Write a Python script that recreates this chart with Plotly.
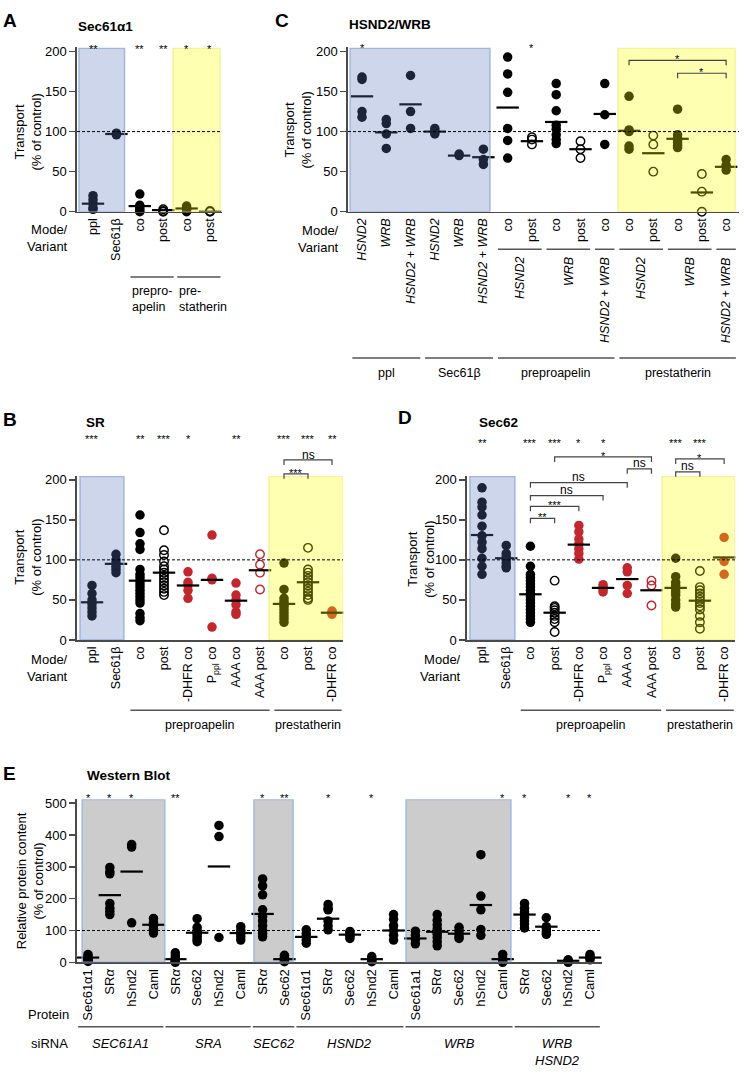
import plotly.graph_objects as go

W, H = 744, 1092
FONT = "Liberation Sans, Arial, Helvetica, sans-serif"
BLACK = "#000000"
RED = "#c1272d"
AXIS = "#4a4a4a"

# ======================= DATA =======================
# Panel A - Sec61alpha1
A_cats = ["ppl", "Sec61β", "co", "post", "co", "post"]
A_vals = [[20, 15, 10, 5, 3], [98, 97, 96], [22, 8, 5, 2, 0], [3, 1, 0], [7, 5, 3, 0], [1, 0]]
A_means = [10, 97, 7, 2, 4, 0]
A_stars = ["**", "", "**", "**", "*", "*"]
A_open = [3, 5]
A_red = []
A_groups = [("prepro-<br>apelin", 2, 3), ("pre-<br>statherin", 4, 5)]

# Panel C - HSND2/WRB
C_cats = ["HSND2", "WRB", "HSND2 + WRB", "HSND2", "WRB", "HSND2 + WRB",
          "co", "post", "co", "post", "co", "co", "post", "co", "post", "co"]
C_vals = [[168, 165, 125, 118], [115, 110, 97, 79], [170, 125, 104], [104, 101, 99, 97],
          [72, 70], [78, 65, 59], [193, 172, 149, 104, 89, 67], [93, 90, 84],
          [160, 146, 126, 108, 103, 96, 90, 85], [88, 78, 67], [160, 121, 84],
          [144, 102, 100, 82, 78], [95, 84, 50], [128, 96, 92, 89, 86, 83, 80],
          [47, 25, 0], [65, 58, 52]]
C_means = [144, 99, 134, 100, 70, 68, 130, 88, 112, 78, 122, 101, 73, 91, 24, 56]
C_stars = ["*", "", "", "", "", "", "", "*", "", "", "", "", "", "", "", ""]
C_open = [7, 9, 12, 14]
C_red = []
C_variant_groups = [("HSND2", 6, 7), ("WRB", 8, 9), ("HSND2 + WRB", 10, 10),
                    ("HSND2", 11, 12), ("WRB", 13, 14), ("HSND2 + WRB", 15, 15)]
C_substrate_groups = [("ppl", 0, 2), ("Sec61β", 3, 5), ("preproapelin", 6, 10), ("prestatherin", 11, 15)]
C_brackets = [("*", 11, 15), ("*", 13, 15)]

# Panel B - SR
B_cats = ["ppl", "Sec61β", "co", "post", "-DHFR co", "P<sub>ppl</sub> co", "AAA co", "AAA post",
          "co", "post", "-DHFR co"]
B_vals = [[68, 58, 50, 45, 40, 35, 30], [107, 100, 96, 92, 88, 84],
          [156, 134, 120, 113, 88, 82, 78, 74, 70, 66, 62, 58, 54, 50, 46, 33, 28, 24],
          [137, 112, 106, 98, 92, 88, 84, 80, 76, 72, 68, 64, 60, 56],
          [85, 72, 68, 62, 52], [131, 77, 75, 16], [71, 56, 50, 44, 35, 32], [107, 94, 84, 63],
          [96, 63, 52, 48, 45, 42, 38, 34, 30, 26, 22],
          [115, 88, 84, 80, 76, 72, 68, 64, 60, 56, 52, 50], [36, 34, 32]]
B_means = [47, 95, 74, 84, 68, 75, 49, 87, 45, 72, 34]
B_stars = ["***", "", "**", "***", "*", "", "**", "", "***", "***", "**"]
B_open = [3, 7, 9]
B_red = [4, 5, 6, 7, 10]
B_groups = [("preproapelin", 2, 7), ("prestatherin", 8, 10)]
B_brackets = [("ns", 8, 10), ("***", 8, 9)]

# Panel D - Sec62
D_cats = B_cats
D_vals = [[190, 172, 166, 156, 142, 130, 122, 114, 102, 92, 82], [118, 108, 104, 100, 96, 92, 90],
          [117, 92, 82, 78, 74, 70, 66, 62, 58, 54, 50, 46, 42, 38, 34, 30, 26, 22],
          [74, 42, 40, 37, 34, 30, 26, 22, 10], [143, 135, 126, 120, 114, 108, 101],
          [69, 66, 63, 60], [90, 85, 68, 58], [74, 68, 43],
          [102, 79, 72, 68, 64, 60, 56, 50, 45, 41],
          [86, 66, 62, 58, 54, 50, 46, 42, 38, 30, 22, 14], [128, 98, 82]]
D_means = [131, 102, 57, 34, 119, 65, 76, 62, 65, 49, 103]
D_stars = ["**", "", "***", "***", "*", "*", "", "", "***", "***", ""]
D_open = [3, 7, 9]
D_red = [4, 5, 6, 7, 10]
D_groups = [("preproapelin", 2, 7), ("prestatherin", 8, 10)]
D_brackets = [("*", 3, 7), ("ns", 6, 7), ("ns", 2, 6), ("ns", 2, 5), ("***", 2, 4), ("**", 2, 3),
              ("ns", 8, 9), ("*", 8, 10)]

# Panel E - Western Blot
E_cats = ["Sec61α1", "SRα", "hSnd2", "Caml", "SRα", "Sec62", "hSnd2", "Caml", "SRα", "Sec62",
          "Sec61α1", "SRα", "Sec62", "hSnd2", "Caml", "Sec61a1", "SRα", "Sec62", "hSnd2", "Caml",
          "SRα", "Sec62", "hSnd2", "Caml"]
E_vals = [[25, 18, 12, 8, 5, 3], [298, 285, 278, 185, 170, 160, 150], [370, 362, 124],
          [138, 125, 115, 105, 92], [30, 20, 12, 8, 5, 2, 0], [137, 110, 100, 95, 88, 80, 72, 65],
          [430, 395, 78], [112, 100, 90, 80, 70], [262, 240, 212, 165, 145, 130, 115, 100, 90, 80],
          [22, 15, 10, 5, 2], [102, 90, 80, 70, 60], [182, 170, 165, 130, 115, 102],
          [97, 90, 82, 75], [18, 10, 5, 2], [150, 135, 115, 100, 85, 70], [98, 85, 72, 58],
          [150, 132, 118, 105, 95, 88, 78, 65, 52], [110, 100, 90, 80, 75], [338, 208, 165, 103, 85],
          [25, 12, 5, 0], [185, 170, 158, 150, 140, 130, 120, 108], [140, 112, 105, 95, 88],
          [8, 5, 2, 0], [25, 18, 12, 8]]
E_means = [15, 211, 285, 118, 10, 93, 301, 92, 152, 10, 80, 137, 87, 10, 100, 75, 96, 90, 180,
           10, 150, 112, 5, 15]
E_stars = ["*", "*", "*", "", "**", "", "", "", "*", "**", "", "*", "", "*", "", "", "", "", "",
           "*", "*", "", "*", "*"]
E_groups = [("SEC61A1", 0, 3), ("SRA", 4, 7), ("SEC62", 8, 9), ("HSND2", 10, 14), ("WRB", 15, 19),
            ("WRB<br>HSND2", 20, 23)]

# ======================= LAYOUT (pixel geometry) =======================
CFG = {
    "A": dict(n=1, xd=(77, 222), xr=(-0.684, 5.513), yd=(210, 43.95), yr=(0, 205), yt=[0, 50, 100, 150, 200], star=42),
    "C": dict(n=2, xd=(348, 739), xr=(-0.577, 15.53), yd=(210, 43.95), yr=(0, 205), yt=[0, 50, 100, 150, 200], star=40),
    "B": dict(n=3, xd=(77, 343), xr=(-0.625, 10.458), yd=(643, 477), yr=(0, 205), yt=[0, 50, 100, 150, 200], star=436),
    "D": dict(n=4, xd=(467, 735), xr=(-0.62, 10.45), yd=(643, 477), yr=(0, 205), yt=[0, 50, 100, 150, 200], star=440),
    "E": dict(n=5, xd=(77, 602), xr=(-0.504, 23.55), yd=(969, 804.1), yr=(0, 512), yt=[0, 100, 200, 300, 400, 500], star=799),
}
BLUE_FILL, BLUE_LINE = "rgba(88,118,185,0.30)", "rgba(140,165,215,0.75)"
YEL_FILL, YEL_LINE = "rgba(255,255,0,0.30)", "rgba(235,235,120,0.6)"
GRAY_FILL, GRAY_LINE = "rgba(0,0,0,0.20)", "rgba(150,175,225,0.8)"
REGIONS = {
    "A": [(-0.6, 1.35, "b"), (3.42, 5.43, "y")],
    "C": [(-0.49, 5.27, "b"), (10.55, 15.37, "y")],
    "B": [(-0.5, 1.33, "b"), (7.375, 10.46, "y")],
    "D": [(-0.5, 1.36, "b"), (7.44, 10.45, "y")],
    "E": [(-0.27, 3.52, "g"), (7.6, 9.4, "g"), (14.57, 19.38, "g")],
}

fig = go.Figure()
shapes, annotations = [], []
layout = dict(width=W, height=H, margin=dict(l=0, r=0, t=0, b=0), paper_bgcolor="white",
              plot_bgcolor="rgba(0,0,0,0)", showlegend=False,
              font=dict(family=FONT, size=13, color="black"))


def yp(ypx):
    return 1 - ypx / H


def xp(key, i):
    c = CFG[key]
    d0, d1 = c["xd"]
    r0, r1 = c["xr"]
    return (d0 + (i - r0) / (r1 - r0) * (d1 - d0)) / W


def ann(x, y, text, size=13, xanchor="center", yanchor="middle", angle=0, align="center", color="black"):
    annotations.append(dict(x=x, y=y, xref="paper", yref="paper", text=text, showarrow=False,
                            font=dict(size=size, family=FONT, color=color), xanchor=xanchor,
                            yanchor=yanchor, textangle=angle, align=align, borderpad=0))


def hline(x0, x1, ypx, color="#555555", width=1.5):
    shapes.append(dict(type="line", xref="paper", yref="paper", x0=x0, x1=x1, y0=yp(ypx), y1=yp(ypx),
                       line=dict(color=color, width=width), layer="above"))


def build(key, cats, vals, means, stars, opens, reds, ticktext, tickfs):
    c = CFG[key]
    n = c["n"]
    xa = "x" if n == 1 else f"x{n}"
    ya = "y" if n == 1 else f"y{n}"
    xname = "xaxis" if n == 1 else f"xaxis{n}"
    yname = "yaxis" if n == 1 else f"yaxis{n}"
    layout[xname] = dict(domain=[c["xd"][0] / W, c["xd"][1] / W], range=list(c["xr"]), anchor=ya,
                         showline=True, linecolor=AXIS, linewidth=1.6, ticks="",
                         tickvals=list(range(len(cats))), ticktext=ticktext, tickangle=-90,
                         tickfont=dict(size=tickfs, family=FONT), showgrid=False, zeroline=False)
    layout[yname] = dict(domain=[yp(c["yd"][0]), yp(c["yd"][1])], range=list(c["yr"]), anchor=xa,
                         showline=True, linecolor=AXIS, linewidth=1.6, ticks="outside", ticklen=6,
                         tickwidth=1.6, tickcolor=AXIS, tickvals=c["yt"],
                         tickfont=dict(size=13, family=FONT), showgrid=False, zeroline=False)
    groups = {}
    for i, v in enumerate(vals):
        k = (i in opens, i in reds)
        gx, gy = groups.setdefault(k, ([], []))
        gx.extend([i] * len(v))
        gy.extend(v)
    for (is_open, is_red), (gx, gy) in groups.items():
        col = RED if is_red else BLACK
        if is_open:
            mk = dict(symbol="circle-open", size=8.5, color=col, line=dict(width=1.4, color=col))
        else:
            mk = dict(symbol="circle", size=9.5, color=col, line=dict(width=0))
        fig.add_trace(go.Scatter(x=gx, y=gy, xaxis=xa, yaxis=ya, mode="markers", cliponaxis=False,
                                 hoverinfo="skip", marker=mk))
    fig.add_trace(go.Scatter(x=list(range(len(means))), y=means, xaxis=xa, yaxis=ya, mode="markers",
                             cliponaxis=False, hoverinfo="skip",
                             marker=dict(symbol="line-ew", size=16, color=BLACK,
                                         line=dict(width=2.2, color=BLACK))))
    top = c["yr"][1] - 1
    for x0, x1, kind in REGIONS[key]:
        fill, line = {"b": (BLUE_FILL, BLUE_LINE), "y": (YEL_FILL, YEL_LINE), "g": (GRAY_FILL, GRAY_LINE)}[kind]
        shapes.append(dict(type="rect", xref=xa, yref=ya, x0=x0, x1=x1, y0=0, y1=top, fillcolor=fill,
                           line=dict(color=line, width=1.5), layer="above"))
    shapes.append(dict(type="line", xref=f"{xa} domain", yref=ya, x0=0, x1=1, y0=100, y1=100,
                       line=dict(color="black", width=1, dash="3px,2px"), layer="above"))
    for i, s in enumerate(stars):
        if s:
            ann(xp(key, i), yp(c["star"] + 4), s, size=11, color=BLACK)


def bracket(key, i0, i1, top, label, label_y):
    x0, x1 = xp(key, i0), xp(key, i1)
    path = f"M {x0},{yp(top + 5)} L {x0},{yp(top)} L {x1},{yp(top)} L {x1},{yp(top + 5)}"
    shapes.append(dict(type="path", xref="paper", yref="paper", path=path,
                       line=dict(color="#444444", width=1.2), layer="above"))
    is_star = "*" in label
    ann((x0 + x1) / 2, yp(label_y + (4 if is_star else 0)), label, size=11 if is_star else 12,
        color=BLACK)


# ---------- panel A ----------
build("A", A_cats, A_vals, A_means, A_stars, A_open, A_red, A_cats, 12.5)
for text, g0, g1 in A_groups:
    hline(xp("A", g0 - 0.4), xp("A", g1 + 0.45), 276)
    ann(xp("A", g0 - 0.38), yp(282), text, size=12.5, xanchor="left", yanchor="top", align="left")
ann(10 / W, yp(17), "<b>A</b>", size=19)
ann(105 / W, yp(23), "<b>Sec61α1</b>", size=13.5)
ann(28 / W, yp(130), "Transport<br>(% of control)", size=13, angle=-90)
ann(69 / W, yp(237), "Mode/<br>Variant", size=13, xanchor="right", align="right")

# ---------- panel C ----------
C_tick = [f"<i>{t}</i>" if i < 6 else t for i, t in enumerate(C_cats)]
build("C", C_cats, C_vals, C_means, C_stars, C_open, C_red, C_tick, 12.5)
for text, g0, g1 in C_variant_groups:
    hline(xp("C", g0 - 0.4), xp("C", g1 + 0.4), 248)
    ann(xp("C", (g0 + g1) / 2), yp(255), f"<i>{text}</i>", size=12.5, angle=-90, yanchor="top")
for text, g0, g1 in C_substrate_groups:
    hline(xp("C", g0 - 0.4), xp("C", g1 + 0.4), 358)
    ann(xp("C", (g0 + g1) / 2), yp(373), text, size=12.5)
for (lab, i0, i1), top, ly in zip(C_brackets, [57, 70], [52, 65]):
    bracket("C", i0, i1, top, lab, ly)
ann(282 / W, yp(17), "<b>C</b>", size=19)
ann(348 / W, yp(21), "<b>HSND2/WRB</b>", size=13.5, xanchor="left")
ann(298 / W, yp(128), "Transport<br>(% of control)", size=13, angle=-90)
ann(340 / W, yp(238), "Mode/<br>Variant", size=13, xanchor="right", align="right")

# ---------- panel B ----------
build("B", B_cats, B_vals, B_means, B_stars, B_open, B_red, B_cats, 12.5)
for text, g0, g1 in B_groups:
    hline(xp("B", g0 - 0.4), xp("B", g1 + 0.4), 714)
    ann(xp("B", (g0 + g1) / 2), yp(729), text, size=12.5)
for (lab, i0, i1), top, ly in zip(B_brackets, [461, 475], [456, 470]):
    bracket("B", i0, i1, top, lab, ly)
ann(10 / W, yp(420), "<b>B</b>", size=19)
ann(95 / W, yp(423), "<b>SR</b>", size=13.5)
ann(28 / W, yp(560), "Transport<br>(% of control)", size=13, angle=-90)
ann(69 / W, yp(671), "Mode/<br>Variant", size=13, xanchor="right", align="right")

# ---------- panel D ----------
build("D", D_cats, D_vals, D_means, D_stars, D_open, D_red, D_cats, 12.5)
for text, g0, g1 in D_groups:
    hline(xp("D", g0 - 0.4), xp("D", g1 + 0.4), 714)
    ann(xp("D", (g0 + g1) / 2), yp(729), text, size=12.5)
D_tops = [458, 470, 484, 497, 508, 520, 473, 460]
D_labys = [453, 464, 478, 491, 503, 515, 467, 455]
for (lab, i0, i1), top, ly in zip(D_brackets, D_tops, D_labys):
    bracket("D", i0, i1, top, lab, ly)
ann(405 / W, yp(418), "<b>D</b>", size=19)
ann(499 / W, yp(423), "<b>Sec62</b>", size=13.5)
ann(421 / W, yp(562), "Transport<br>(% of control)", size=13, angle=-90)
ann(462 / W, yp(671), "Mode/<br>Variant", size=13, xanchor="right", align="right")

# ---------- panel E ----------
E_tick = [t.replace("α", "<i>α</i>") if t.startswith("SR") else t for t in E_cats]
build("E", E_cats, E_vals, E_means, E_stars, [], [], E_tick, 13)
for text, g0, g1 in E_groups:
    hline(xp("E", g0 - 0.45), xp("E", g1 + 0.45), 1034)
    ann(xp("E", (g0 + g1) / 2), yp(1042), f"<i>{text}</i>", size=13, yanchor="top")
ann(9 / W, yp(778), "<b>E</b>", size=19)
ann(129 / W, yp(780), "<b>Western Blot</b>", size=13.5)
ann(30 / W, yp(887), "Relative protein content<br>(% of control)", size=13, angle=-90)
ann(70 / W, yp(1022), "Protein", size=13, xanchor="right")
ann(69 / W, yp(1051), "siRNA", size=13, xanchor="right")

layout["shapes"] = shapes
layout["annotations"] = annotations
fig.update_layout(**layout)
fig.write_html("out.html", config={"displayModeBar": False, "staticPlot": True},
               post_script="document.body.style.margin='0px';")
